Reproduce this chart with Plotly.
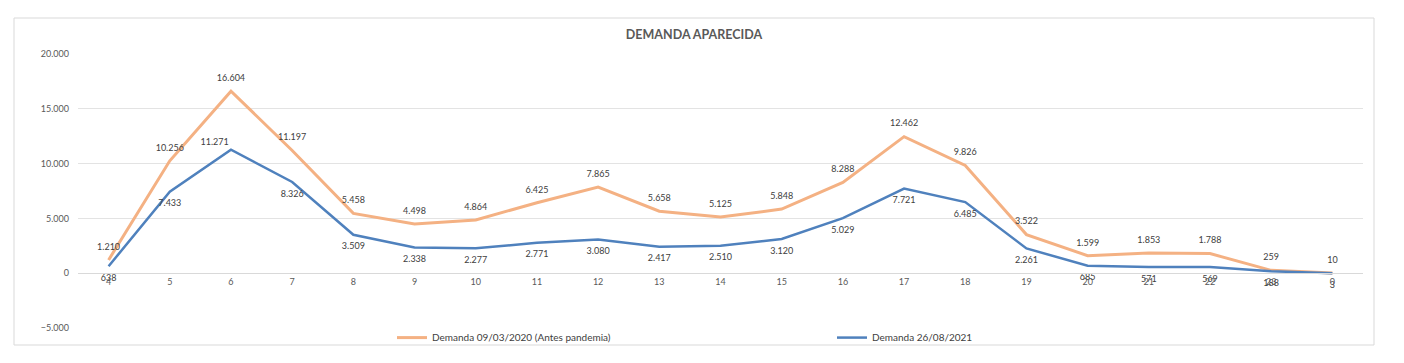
import plotly.graph_objects as go

categories = ["4", "5", "6", "7", "8", "9", "10", "11", "12", "13", "14", "15",
              "16", "17", "18", "19", "20", "21", "22", "23", "0"]
demanda_2020 = [1210, 10256, 16604, 11197, 5458, 4498, 4864, 6425, 7865, 5658, 5125,
                5848, 8288, 12462, 9826, 3522, 1599, 1853, 1788, 259, 10]
demanda_2021 = [638, 7433, 11271, 8326, 3509, 2338, 2277, 2771, 3080, 2417, 2510,
                3120, 5029, 7721, 6485, 2261, 685, 571, 569, 188, 3]
name_2020 = "Demanda 09/03/2020 (Antes pandemia)"
name_2021 = "Demanda 26/08/2021"
y_ticks = [-5000, 0, 5000, 10000, 15000, 20000]

FONT = "Lato, Carlito, Calibri, sans-serif"
ORANGE = "#F4B183"
BLUE = "#4F81BD"

W, H = 1388, 347  # page body has an 8px margin
fig = go.Figure()
fig.add_trace(go.Scatter(
    x=categories, y=demanda_2020, name=name_2020, mode="lines+markers+text",
    line=dict(color=ORANGE, width=3),
    marker=dict(size=11, color="rgba(0,0,0,0)", line=dict(width=0)),
    texttemplate="%{y:,.0f}", textposition="top center",
    textfont=dict(size=9, color="#404040", family=FONT),
    cliponaxis=False, hoverinfo="x+y",
))
blue_pos = ["bottom center"] * len(categories)
blue_pos[2] = "top left"
blue_sizes = [11] * len(categories)
blue_sizes[2] = 2
fig.add_trace(go.Scatter(
    x=categories, y=demanda_2021, name=name_2021, mode="lines+markers+text",
    line=dict(color=BLUE, width=2.5),
    marker=dict(size=blue_sizes, color="rgba(0,0,0,0)", line=dict(width=0)),
    texttemplate="%{y:,.0f}", textposition=blue_pos,
    textfont=dict(size=9, color="#404040", family=FONT),
    cliponaxis=False, hoverinfo="x+y",
))

fig.update_layout(
    width=W, height=H,
    margin=dict(l=70, r=33, t=46, b=27, autoexpand=False),
    paper_bgcolor="white", plot_bgcolor="white",
    separators=",.",
    font=dict(family=FONT, size=9, color="#595959"),
    title=dict(text="<b>DEMANDA APARECIDA</b>", x=686 / W, xanchor="center",
               y=1 - 27 / H, yanchor="middle",
               font=dict(size=12.5, color="#595959", family=FONT)),
    showlegend=True,
    legend=dict(orientation="h", x=(392 - 78) / 1285, xanchor="left",
                y=-0.035, yanchor="middle", entrywidth=395, entrywidthmode="pixels",
                font=dict(size=10, color="#404040", family=FONT),
                itemwidth=30, bgcolor="rgba(0,0,0,0)"),
    xaxis=dict(type="category", anchor="free", position=0.2,
               showgrid=False, showline=True, linecolor="#D9D9D9", linewidth=1,
               ticks="", tickfont=dict(size=9, color="#595959"),
               range=[-0.5, len(categories) - 0.5], zeroline=False),
    yaxis=dict(range=[-5000, 20000], tickvals=y_ticks, tickformat=",.0f",
               showgrid=True, gridcolor="#E3E3E3", gridwidth=1,
               zeroline=False, showline=False, ticks="", ticklabelstandoff=8,
               tickfont=dict(size=9, color="#595959")),
    shapes=[dict(type="rect", xref="paper", yref="paper",
                 x0=(14 - 78) / 1285, x1=(1374 - 78) / 1285,
                 y0=(328 - 345) / 274, y1=(328 - 18) / 274,
                 line=dict(color="#D9D9D9", width=1), fillcolor="rgba(0,0,0,0)",
                 layer="below")],
)

fig.write_html("out.html")
